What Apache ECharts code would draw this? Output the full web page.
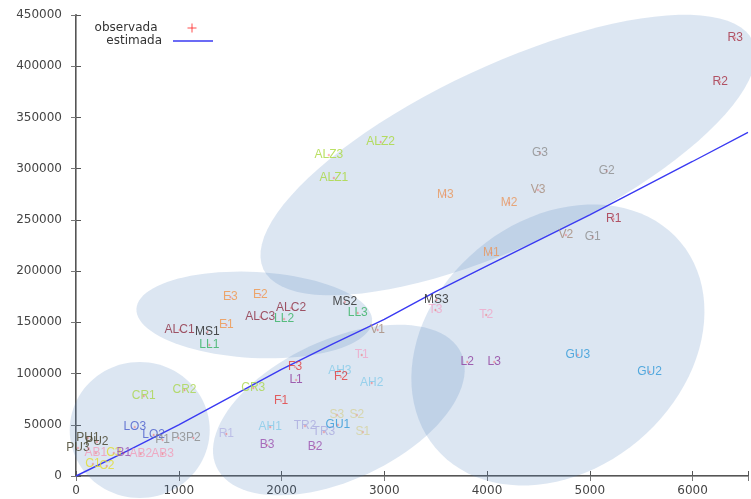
<!DOCTYPE html>
<html><head><meta charset="utf-8">
<script src="https://cdn.jsdelivr.net/npm/echarts@6/dist/echarts.min.js"></script>
<style>html,body{margin:0;padding:0;background:#fff}#c{width:751px;height:499px}</style>
</head><body><div id="c"></div>
<script>
// observed points (label, x, y)
const names = ['PU1','PU2','PU3','AB1','C3','B1','AB2','AB3','C1','C2',
  'CR1','CR2','CR3','LO3','LO2','P1','P3','P2','R1','AH1',
  'B3','TR2','TR3','GU1','B2','S3','S2','S1','F1','F3',
  'L1','AH3','F2','AH2','T1','V1','ALC1','MS1','LL1','E1',
  'E3','E2','ALC3','LL2','ALC2','MS2','LL3','ALZ3','ALZ2','ALZ1',
  'M3','M2','M1','MS3','T3','T2','V3','R1','V2','G1',
  'GU3','GU2','L2','L3','R3','R2','G3','G2'];
const xs = [116,203,19,194,368,465,630,843,165,300,
  659,1056,1725,572,756,843,998,1143,1463,1890,
  1860,2229,2413,2549,2326,2539,2733,2791,1996,2132,
  2142,2568,2578,2878,2781,2936,1008,1279,1298,1463,
  1502,1793,1793,2025,2093,2616,2742,2461,2965,2510,
  3595,4215,4041,3508,3498,3992,4496,5233,4768,5029,
  4884,5582,3808,4070,6415,6269,4516,5165];
const ys = [37100,33200,27300,22400,22400,22400,21500,21500,11700,9800,
  78100,83900,85900,47800,40000,35100,37100,37100,41000,47800,
  30300,48800,42900,49800,28300,59500,59500,42900,73200,106400,
  93700,102500,96600,90800,118100,142500,142500,140600,127900,147400,
  174700,176700,155200,153200,164000,169800,159100,313300,326000,290900,
  274300,266500,217700,171800,162000,157200,279200,250900,235200,233300,
  118100,101500,111300,111300,427500,384600,315300,297700];
// estimated curve
const estX = [0,500,1000,1500,2000,2500,3000,3500,4000,4500,5000,5500,6000,6540];
const estY = [0,24500,50000,77000,104000,129000,153000,180000,205000,230000,255000,281000,307000,335500];

// styles (colour per label)
const groupColor = {PU:'#3d3a22',AB:'#f29bb8',C:'#e2dc2a',B:'#9a4fae',CR:'#a9d64c',LO:'#4a5ccc',
  P:'#8a8a8a',TR:'#aaaade',AH:'#86cbe8',GU:'#2f98d8',S:'#d6d29c',F:'#e23a3a',L:'#8e3c9e',
  T:'#f0a6c8',V:'#a58a78',ALC:'#8c2c40',MS:'#222222',LL:'#34b262',E:'#f0954a',ALZ:'#a9d83c',
  M:'#e8955a',R:'#a52c40',G:'#8c8c8c'};
const overrideColor = {18:'#b4b4e4'}; // lower R1
// background ellipses: centre (data), semi-axes (px), rotation (deg)
const ellipses = [
  [620,44900,70,68,0],
  [1735,157200,118,43,-3],
  [2558,64400,135,70,25],
  [4205,313300,270,90,25],
  [4690,127900,160,125,40]
];

const obsData = names.map((n,i)=>{
  const g = n.replace(/\d+$/,'');
  return {name:n, value:[xs[i],ys[i]], label:{color: overrideColor[i] || groupColor[g] || '#333'}};
});
const estData = estX.map((x,i)=>[x,estY[i]]);

const chart = echarts.init(document.getElementById('c'));
const axisFont = {fontFamily:'DejaVu Sans', fontSize:12, color:'#444'};
chart.setOption({
  animation:false,
  backgroundColor:'#fff',
  grid:{left:76,right:0,top:15,bottom:23},
  legend:[
    {data:[{name:'observada',icon:'path://M4,0V8M0,4H8'}],orient:'vertical',align:'right',right:552,top:21,padding:0,
     itemWidth:9,itemHeight:9,itemStyle:{color:'none',borderColor:'#ff2020',borderWidth:1},
     textStyle:{fontFamily:'DejaVu Sans',fontSize:12,color:'#333',padding:[0,25,0,0]}},
    {data:[{name:'estimada',icon:'rect'}],orient:'vertical',align:'right',right:538,top:35,padding:0,
     itemWidth:40,itemHeight:1.5,itemStyle:{color:'#3a3af2'},
     textStyle:{fontFamily:'DejaVu Sans',fontSize:12,color:'#333',padding:[0,6,0,0]}}
  ],
  xAxis:[
    {type:'value',min:0,max:6540,interval:1000,position:'bottom',
     axisLine:{lineStyle:{color:'#555',width:2}},
     axisTick:{inside:true,length:5,lineStyle:{color:'#555'}},
     axisLabel:Object.assign({margin:9,formatter:v=>v%1000===0?String(v):''},axisFont),
     splitLine:{show:false}},
    {type:'value',min:0,max:6540,interval:1000,position:'top',
     axisLine:{lineStyle:{color:'#999',width:1}},
     axisTick:{inside:true,length:5,lineStyle:{color:'#777'}},
     axisLabel:{show:false},splitLine:{show:false}}
  ],
  yAxis:[
    {type:'value',min:0,max:450000,interval:50000,position:'left',
     axisLine:{show:true,lineStyle:{color:'#555',width:2}},
     axisTick:{show:true,inside:true,length:5,lineStyle:{color:'#555'}},
     axisLabel:Object.assign({margin:14,formatter:v=>String(v)},axisFont),
     splitLine:{show:false}},
    {type:'value',min:0,max:450000,interval:50000,position:'right',
     axisLine:{show:true,lineStyle:{color:'#999',width:1}},
     axisTick:{show:true,inside:true,length:5,lineStyle:{color:'#777'}},
     axisLabel:{show:false},splitLine:{show:false}}
  ],
  series:[
    {type:'custom',name:'zonas',silent:true,z:1,clip:false,
     data:ellipses,
     renderItem:function(params,api){
       const c = api.coord([api.value(0),api.value(1)]);
       const a = api.value(2), b = api.value(3), ang = api.value(4)*Math.PI/180;
       const u=[Math.cos(ang),-Math.sin(ang)], v=[Math.sin(ang),Math.cos(ang)];
       const pts=[];
       for(let k=0;k<96;k++){const t=k/96*2*Math.PI;
         pts.push([c[0]+a*Math.cos(t)*u[0]+b*Math.sin(t)*v[0], c[1]+a*Math.cos(t)*u[1]+b*Math.sin(t)*v[1]]);}
       return {type:'polygon',shape:{points:pts},style:{fill:'rgba(79,129,189,0.2)',stroke:null}};
     }},
    {type:'line',name:'estimada',data:estData,showSymbol:false,symbol:'none',z:3,
     lineStyle:{color:'#3a3af2',width:1.4},itemStyle:{color:'#3a3af2'}},
    {type:'scatter',name:'observada',data:obsData,z:4,
     symbol:'path://M4,0V8M0,4H8',symbolSize:2.5,
     itemStyle:{color:'none',borderColor:'rgba(255,32,32,0.55)',borderWidth:0.7},
     label:{show:true,position:'inside',formatter:'{b}',fontFamily:'Liberation Sans',fontSize:12}}
  ]
});
</script></body></html>
